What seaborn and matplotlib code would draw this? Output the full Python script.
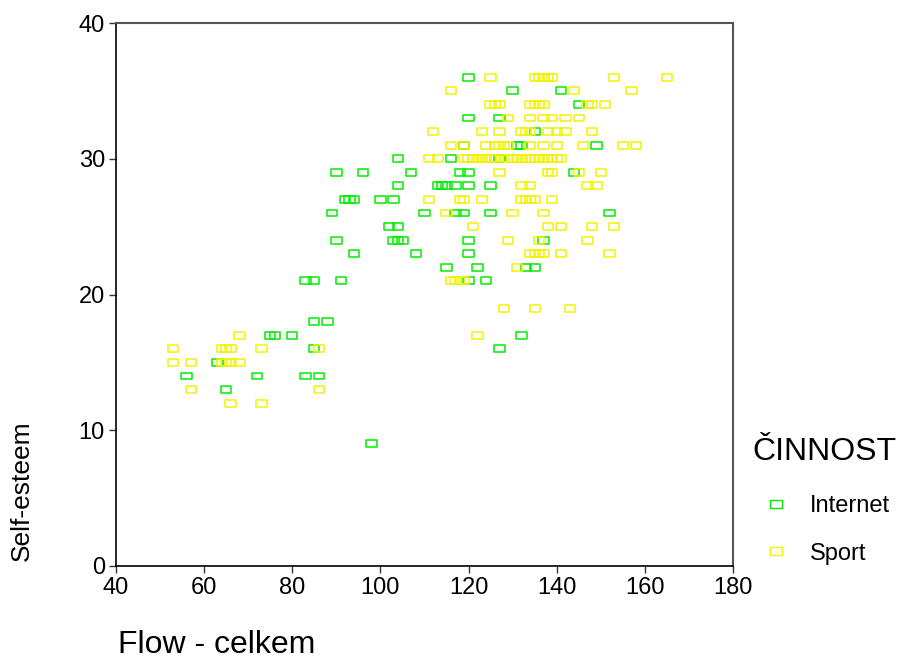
import numpy as np
import pandas as pd
import matplotlib
matplotlib.use("Agg")
import matplotlib.pyplot as plt
from matplotlib.lines import Line2D
from matplotlib.path import Path
import seaborn as sns

# Internet group (flow, self-esteem)
internet_flow = [56, 65, 63, 72, 75, 76, 80, 83, 86, 85, 85, 88, 83, 85, 91, 98,
                 90, 103, 104, 105, 94, 108, 102, 104, 89, 110, 92, 93, 94, 100, 103,
                 104, 113, 90, 96, 107, 104,
                 120, 130, 141, 145, 120, 127, 135, 119, 131, 132, 149, 116, 127,
                 118, 120, 144, 114, 115, 117, 120, 125, 117, 119, 125, 152, 120,
                 137, 120, 115, 122, 133, 135, 120, 124, 132, 127]
internet_self = [14, 13, 15, 14, 17, 17, 17, 14, 14, 16, 18, 18, 21, 21, 21, 9,
                 24, 24, 24, 24, 23, 23, 25, 25, 26, 26, 27, 27, 27, 27, 27,
                 28, 28, 29, 29, 29, 30,
                 36, 35, 35, 34, 33, 33, 32, 31, 31, 31, 31, 30, 30,
                 29, 29, 29, 28, 28, 28, 28, 28, 26, 26, 26, 26, 24,
                 24, 23, 22, 22, 22, 22, 21, 21, 17, 16]

# Sport group (flow, self-esteem)
sport_flow = [68, 53, 64, 65, 66, 73, 86, 53, 57, 64, 65, 66, 68, 57, 86, 66, 73,
              125, 135, 136, 137, 138, 139, 153, 165,
              116, 144, 157,
              125, 126, 127, 134, 135, 136, 137, 147, 148, 151,
              129, 134, 137, 139, 142, 145,
              112, 123, 127, 132, 133, 134, 138, 140, 142, 148,
              116, 119, 124, 126, 127, 128, 129, 134, 137, 140, 146, 155, 158,
              111, 113, 119, 120, 121, 122, 123, 124, 125, 126, 128, 129, 130,
              131, 132, 133, 134, 135, 136, 137, 138, 139, 140, 141,
              127, 138, 139, 145, 150,
              132, 134, 147, 149,
              111, 118, 119, 123, 132, 133, 134, 135, 139,
              115, 130, 137,
              121, 138, 141, 148, 153,
              129, 136, 147,
              134, 135, 136, 137, 141, 152,
              131,
              116, 117, 118, 119,
              128, 135, 143,
              122]
sport_self = [17, 16, 16, 16, 16, 16, 16, 15, 15, 15, 15, 15, 15, 13, 13, 12, 12,
              36, 36, 36, 36, 36, 36, 36, 36,
              35, 35, 35,
              34, 34, 34, 34, 34, 34, 34, 34, 34, 34,
              33, 33, 33, 33, 33, 33,
              32, 32, 32, 32, 32, 32, 32, 32, 32, 32,
              31, 31, 31, 31, 31, 31, 31, 31, 31, 31, 31, 31, 31,
              30, 30, 30, 30, 30, 30, 30, 30, 30, 30, 30, 30, 30,
              30, 30, 30, 30, 30, 30, 30, 30, 30, 30, 30,
              29, 29, 29, 29, 29,
              28, 28, 28, 28,
              27, 27, 27, 27, 27, 27, 27, 27, 27,
              26, 26, 26,
              25, 25, 25, 25, 25,
              24, 24, 24,
              23, 23, 23, 23, 23, 23,
              22,
              21, 21, 21, 21,
              19, 19, 19,
              17]

groups = ["Internet", "Sport"]
colors = {"Internet": "#00ee00", "Sport": "#f2f200"}

df = pd.concat([
    pd.DataFrame({"flow": internet_flow, "self": internet_self, "cin": "Internet"}),
    pd.DataFrame({"flow": sport_flow, "self": sport_self, "cin": "Sport"}),
], ignore_index=True)

sns.set_style("white")
plt.rcParams["font.family"] = ["Liberation Sans", "DejaVu Sans"]
plt.rcParams["text.color"] = "black"
plt.rcParams["xtick.labelcolor"] = "black"
plt.rcParams["ytick.labelcolor"] = "black"

# open rectangle marker, wider than tall
rect = Path([(-1.5, -1), (1.5, -1), (1.5, 1), (-1.5, 1), (-1.5, -1)],
            [Path.MOVETO, Path.LINETO, Path.LINETO, Path.LINETO, Path.CLOSEPOLY])

fig = plt.figure(figsize=(9.22, 6.61), dpi=100)
ax = fig.add_axes([116 / 922, 95 / 661, 617 / 922, 543 / 661])

for g in groups:
    sns.scatterplot(data=df[df["cin"] == g], x="flow", y="self", ax=ax,
                    marker=rect, s=55, legend=False, color=colors[g])
for coll, g in zip(ax.collections, groups):
    coll.set_facecolor("none")
    coll.set_edgecolor(colors[g])
    coll.set_linewidth(1.1)

ax.set_xlim(40, 180)
ax.set_ylim(0, 40)
ax.set_xticks(np.arange(40, 181, 20))
ax.set_yticks(np.arange(0, 41, 10))
ax.tick_params(axis="both", direction="out", length=5, width=1, labelsize=17,
               bottom=True, left=True, color="#333333", pad=3)
for side in ["left", "bottom"]:
    ax.spines[side].set_color("black")
    ax.spines[side].set_linewidth(1.2)
for side in ["top", "right"]:
    ax.spines[side].set_color("#555555")
    ax.spines[side].set_linewidth(1.5)

ax.set_xlabel("")
ax.set_ylabel("")
fig.text(118 / 922, 1 - 645 / 661, "Flow - celkem", fontsize=23,
         ha="left", va="center")
fig.text(22 / 922, 1 - 491 / 661, "Self-esteem", fontsize=19, rotation=90,
         ha="center", va="center")

handles = [Line2D([], [], linestyle="none", marker=rect, markersize=8,
                  markerfacecolor="none", markeredgecolor=colors[g],
                  markeredgewidth=1.0, label=g) for g in groups]
fig.legend(handles=handles, title="ČINNOST", loc="upper left",
           bbox_to_anchor=(752 / 922, 1 - 437 / 661), frameon=False,
           fontsize=17, title_fontsize=23, alignment="left",
           handlelength=2.0, handletextpad=0.45, labelspacing=1.1,
           borderpad=0, borderaxespad=0)
fig.legends[0]._legend_box.sep = 20

fig.savefig("out.png", dpi=100)
